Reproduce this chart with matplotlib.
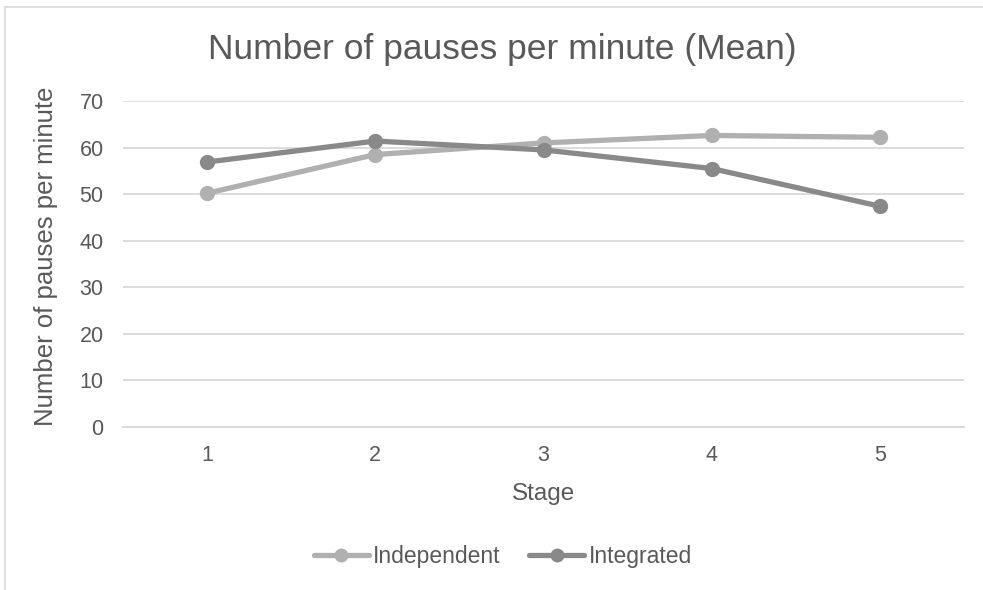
import matplotlib
matplotlib.use("Agg")
import matplotlib.pyplot as plt
from matplotlib.patches import Rectangle

stages = ["1", "2", "3", "4", "5"]
independent = [50.2, 58.5, 61.0, 62.6, 62.2]
integrated = [56.9, 61.4, 59.5, 55.5, 47.4]
yticks = [0, 10, 20, 30, 40, 50, 60, 70]

plt.rcParams['font.family'] = ['Liberation Sans', 'DejaVu Sans']
txt = '#595959'
W, H = 983, 590

fig = plt.figure(figsize=(9.83, 5.90), dpi=100)
fig.patches.append(Rectangle((5/W, -0.1), 1.2, 1 - 7/H + 0.1, transform=fig.transFigure,
                             fill=False, edgecolor='#d9d9d9', linewidth=1.2))
ax = fig.add_axes([123/W, 1 - 427/H, (964 - 123)/W, (427 - 101)/H])

x = list(range(len(stages)))
ax.plot(x, independent, color='#b0b0b0', linewidth=3.8, marker='o', markersize=10,
        label='Independent', solid_capstyle='round', zorder=3)
ax.plot(x, integrated, color='#898989', linewidth=3.8, marker='o', markersize=10,
        label='Integrated', solid_capstyle='round', zorder=4)

ax.set_xlim(-0.5, len(stages) - 0.5)
ax.set_ylim(0, 70)
ax.set_yticks(yticks)
ax.set_xticks(x)
ax.set_xticklabels(stages)
ax.yaxis.grid(True, color='#d9d9d9', linewidth=1.3)
ax.set_axisbelow(True)
for s in ['top', 'right', 'left']:
    ax.spines[s].set_visible(False)
ax.spines['bottom'].set_color('#d9d9d9')
ax.spines['bottom'].set_linewidth(1.3)
ax.tick_params(axis='both', length=0, labelsize=15.5, labelcolor=txt)
ax.tick_params(axis='y', pad=14)
ax.tick_params(axis='x', pad=13)

fig.text(544/W, 1 - 500/H, 'Stage', fontsize=17.5, color=txt, ha='center', va='baseline')
fig.text(46/W, 1 - 256/H, 'Number of pauses per minute', fontsize=18.5, color=txt,
         ha='center', va='center', rotation=90)
fig.text(502/W, 1 - 59/H, 'Number of pauses per minute (Mean)', fontsize=25.5,
         color=txt, ha='center', va='baseline')

leg = fig.legend(loc='center', bbox_to_anchor=(503/W, 1 - 557/H), ncol=2,
                 frameon=False, fontsize=16.5, handlelength=2.4, handletextpad=0.2,
                 columnspacing=1.25, markerscale=0.9)
for t in leg.get_texts():
    t.set_color(txt)

fig.savefig('out.png', dpi=100)
